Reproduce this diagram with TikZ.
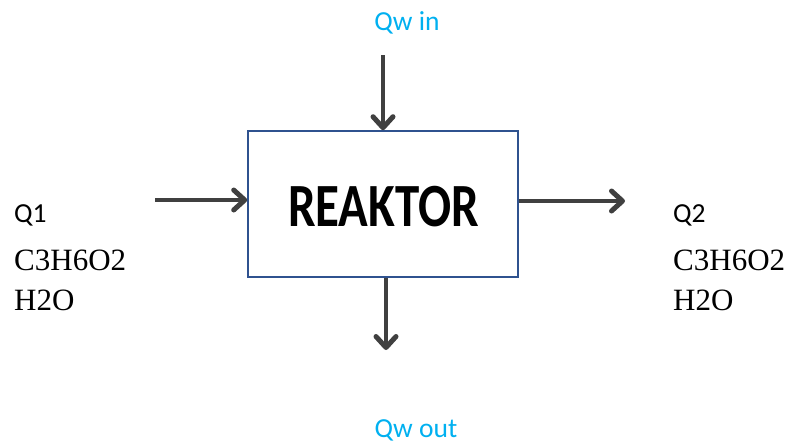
\documentclass[tikz,border=0pt]{standalone}
\usepackage{fontspec}
\usepackage{graphicx}
\setmainfont{Liberation Serif}
\newfontfamily\carlito{Carlito}
\usetikzlibrary{arrows.meta}
\definecolor{boxblue}{HTML}{2F528F}
\definecolor{arrgray}{HTML}{404040}
\definecolor{qwcyan}{HTML}{00B0F0}
\tikzset{
  flow/.style={draw=arrgray, line width=3.8pt,
    -{Straight Barb[length=11pt,width=20pt,line width=5pt,round]}},
  reactor/.style={draw=boxblue, line width=1.6pt, minimum width=270pt, minimum height=146pt, inner sep=0pt},
  lbl/.style={inner sep=0pt, font=\carlito\fontsize{27.5}{32}\selectfont},
  chem/.style={inner sep=0pt, font=\fontsize{31}{36}\selectfont},
  qw/.style={lbl, text=qwcyan}
}
\begin{document}
\begin{tikzpicture}[x=1pt,y=1pt]
\useasboundingbox (0,0) rectangle (790,-445);
\node[reactor] (box) at (383,-204) {};
\node[inner sep=0pt, anchor=base] (title) at (383.5,-226)
  {\scalebox{1.02}[1.28]{\carlito\bfseries\fontsize{48}{50}\selectfont REAKTOR}};
\node[qw, anchor=base] (qwin) at (407,-30) {Qw in};
\node[qw, anchor=base] (qwout) at (416,-437) {Qw out};
\coordinate (topstart) at (383,-55);
\coordinate (botend) at (386,-350);
\coordinate (leftstart) at (155,-200);
\coordinate (rightend) at (625,-201);
\draw[flow] (topstart) -- (box.north);
\draw[flow] ([xshift=3pt]box.south) -- (botend);
\draw[flow] (leftstart) -- ([yshift=4pt]box.west);
\draw[flow] ([yshift=3pt]box.east) -- (rightend);
\node[lbl, anchor=base west] (q1) at (14,-222) {Q1};
\node[chem, anchor=base west] (c1) at (14,-270) {C3H6O2};
\node[chem, anchor=base west] (h1) at (14,-310) {H2O};
\node[lbl, anchor=base west] (q2) at (673,-222) {Q2};
\node[chem, anchor=base west] (c2) at (673,-270) {C3H6O2};
\node[chem, anchor=base west] (h2) at (673,-310) {H2O};
\end{tikzpicture}
\end{document}
